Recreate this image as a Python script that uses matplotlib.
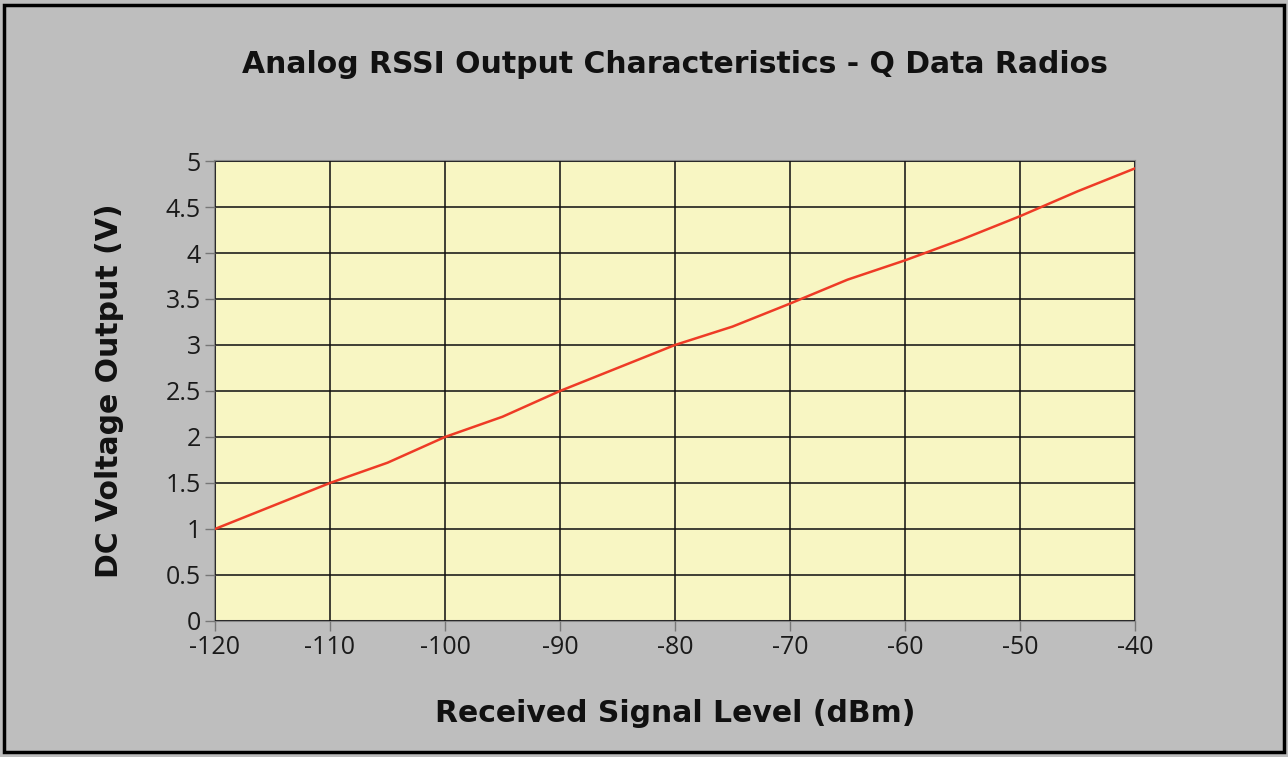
import matplotlib.pyplot as plt
from matplotlib.patches import Rectangle

# received level (dBm) vs RSSI output (V)
signal_dbm = [-120, -115, -110, -105, -100, -95, -90, -85, -80, -75, -70, -65, -60, -55, -50, -45, -40]
rssi_volts = [1.0, 1.25, 1.5, 1.72, 2.0, 2.22, 2.5, 2.75, 3.0, 3.2, 3.45, 3.71, 3.92, 4.15, 4.4, 4.67, 4.92]

x_ticks = list(range(-120, -39, 10))
y_ticks = [0, 0.5, 1, 1.5, 2, 2.5, 3, 3.5, 4, 4.5, 5]
y_ticklabels = ['0', '0.5', '1', '1.5', '2', '2.5', '3', '3.5', '4', '4.5', '5']

bold_font = 'DejaVu Sans'
tick_font = 'Open Sans'

fig = plt.figure(figsize=(12.88, 7.57), dpi=100)
fig.patch.set_facecolor('#bebebe')
# outer black frame
fig.patches.append(Rectangle((0.003, 0.006), 0.994, 0.988, transform=fig.transFigure,
                             fill=False, edgecolor='black', linewidth=2.5))

ax = fig.add_axes([0.1669, 0.1797, 0.7143, 0.6076])
ax.set_facecolor('#f8f6c3')
ax.plot(signal_dbm, rssi_volts, color='#ee3b26', linewidth=1.8, zorder=3)

ax.set_xlim(-120, -40)
ax.set_ylim(0, 5)
ax.set_xticks(x_ticks)
ax.set_xticklabels([str(v) for v in x_ticks], fontsize=18, family=tick_font, color='#1a1a1a')
ax.set_yticks(y_ticks)
ax.set_yticklabels(y_ticklabels, fontsize=18, family=tick_font, color='#1a1a1a')
ax.tick_params(length=7, width=1, color='#777777', pad=3)
ax.grid(True, color='#111111', linewidth=1.4, alpha=0.8)
ax.set_axisbelow(False)
for sp in ax.spines.values():
    sp.set_color('#888888')
    sp.set_linewidth(1.5)

fig.text(0.524, 0.915, 'Analog RSSI Output Characteristics - Q Data Radios',
         ha='center', va='center', fontsize=21.5, fontweight='bold', family=bold_font, color='#111111')
ax.set_xlabel('Received Signal Level (dBm)', fontsize=21.5, fontweight='bold',
              family=bold_font, color='#111111', labelpad=28)
ax.set_ylabel('DC Voltage Output (V)', fontsize=21.5, fontweight='bold',
              family=bold_font, color='#111111', labelpad=30)

fig.savefig('out.png', dpi=100, facecolor=fig.get_facecolor())
